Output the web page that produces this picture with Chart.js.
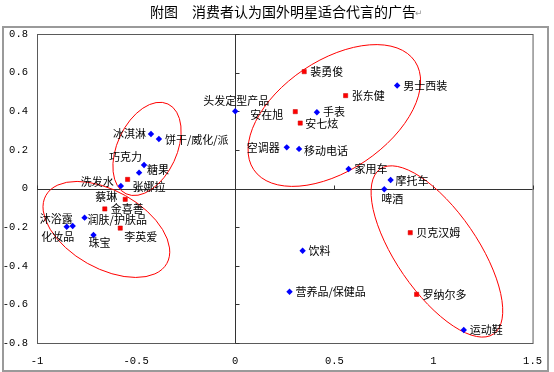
<!DOCTYPE html>
<html>
<head>
<meta charset="utf-8">
<script src="https://cdn.jsdelivr.net/npm/chart.js@4"></script>
<style>
  body { margin: 0; background: #fff; }
  canvas { display: block; }
</style>
</head>
<body>
<canvas id="canvas" width="554" height="372"></canvas>
<script>
const ctx = document.getElementById('canvas');

// products (blue diamonds)
const productNames = ['头发定型产品', '冰淇淋', '饼干/威化/派', '巧克力', '糖果', '洗发水', '润肤/护肤品', '沐浴露', '化妆品', '珠宝',
  '男士西装', '手表', '空调器', '移动电话', '家用车', '摩托车', '啤酒', '饮料', '营养品/保健品', '运动鞋'];
const productX = [0.0, -0.425, -0.385, -0.46, -0.485, -0.577, -0.76, -0.82, -0.85, -0.715,
  0.817, 0.412, 0.26, 0.322, 0.572, 0.784, 0.752, 0.34, 0.274, 1.153];
const productY = [0.40, 0.282, 0.256, 0.122, 0.082, 0.013, -0.151, -0.194, -0.198, -0.241,
  0.533, 0.395, 0.213, 0.205, 0.101, 0.044, -0.004, -0.322, -0.535, -0.733];

// stars (red squares)
const starNames = ['裴勇俊', '张东健', '安在旭', '安七炫', '张娜拉', '蔡琳', '金喜善', '李英爱', '贝克汉姆', '罗纳尔多'];
const starX = [0.348, 0.557, 0.303, 0.328, -0.543, -0.555, -0.658, -0.58, 0.883, 0.915];
const starY = [0.605, 0.481, 0.398, 0.339, 0.047, -0.056, -0.106, -0.205, -0.229, -0.548];

const xTicks = [-1, -0.5, 0, 0.5, 1, 1.5];
const yTicks = [0.8, 0.6, 0.4, 0.2, 0, -0.2, -0.4, -0.6, -0.8];

// cluster ellipses: centre in data units, semi-axes in x units, tilt in degrees
const clusterCx = [-0.445, -0.65, 0.5, 1.0175];
const clusterCy = [0.205, -0.212, 0.378, -0.326];
const clusterA = [0.25, 0.35, 0.49, 0.505];
const clusterB = [0.15, 0.196, 0.278, 0.205];
const clusterTilt = [-65, 29.4, -33.9, 55.5];

// label placement: dx, dy, align
const labelPos = {
  '头发定型产品': [1, -10, 'center'], '冰淇淋': [-5, 0, 'right'], '饼干/威化/派': [6, 1, 'left'],
  '巧克力': [-2, -8, 'right'], '糖果': [8, -3, 'left'], '洗发水': [-7, -4, 'right'],
  '润肤/护肤品': [3, 2, 'left'], '沐浴露': [0, -7, 'right'], '化妆品': [-9, 10, 'center'],
  '珠宝': [6, 8, 'center'], '男士西装': [6, 0, 'left'], '手表': [6, 0, 'left'],
  '空调器': [-7, 0, 'right'], '移动电话': [5, 2, 'left'], '家用车': [6, 0, 'left'],
  '摩托车': [5, 1, 'left'], '啤酒': [8, 10, 'center'], '饮料': [6, 0, 'left'],
  '营养品/保健品': [6, 0, 'left'], '运动鞋': [6, 0, 'left'],
  '裴勇俊': [6, 0, 'left'], '张东健': [6, 0, 'left'], '安在旭': [-12, 3, 'right'],
  '安七炫': [5, 1, 'left'], '张娜拉': [5, 7, 'left'], '蔡琳': [-8, -3, 'right'],
  '金喜善': [6, 0, 'left'], '李英爱': [4, 9, 'left'], '贝克汉姆': [6, 0, 'left'],
  '罗纳尔多': [6, 0, 'left']
};

const toPoints = (xs, ys) => xs.map((x, i) => ({ x: x, y: ys[i] }));

const decor = {
  id: 'decor',
  beforeDraw(chart) {
    const c = chart.ctx;
    c.save();
    c.fillStyle = '#fff';
    c.fillRect(0, 0, chart.width, chart.height);
    // outer frame
    c.strokeStyle = '#9a9a9a';
    c.lineWidth = 2;
    c.strokeRect(3, 27, 545, 344);
    // title
    c.fillStyle = '#000';
    c.font = '14px "Noto Sans CJK SC"';
    c.textBaseline = 'middle';
    c.textAlign = 'left';
    c.fillText('附图　消费者认为国外明星适合代言的广告', 150, 12);
    c.fillStyle = '#999';
    c.font = '9px "DejaVu Sans"';
    c.fillText('↵', 415, 14);
    c.restore();
  },
  beforeDatasetsDraw(chart) {
    const c = chart.ctx;
    const a = chart.chartArea;
    const xs = chart.scales.x, ys = chart.scales.y;
    c.save();
    // plot border
    c.strokeStyle = '#5a5a5a';
    c.lineWidth = 1;
    c.strokeRect(a.left + 0.5, a.top + 0.5, a.right - a.left, a.bottom - a.top);
    // crossing axes
    const x0 = Math.round(xs.getPixelForValue(0)) + 0.5;
    const y0 = Math.round(ys.getPixelForValue(0)) + 0.5;
    c.strokeStyle = '#333';
    c.beginPath();
    c.moveTo(x0, a.top); c.lineTo(x0, a.bottom);
    c.moveTo(a.left, y0); c.lineTo(a.right, y0);
    yTicks.forEach(v => {
      const p = Math.round(ys.getPixelForValue(v)) + 0.5;
      c.moveTo(x0, p); c.lineTo(x0 + 4, p);
    });
    xTicks.forEach(v => {
      const p = Math.round(xs.getPixelForValue(v)) + 0.5;
      c.moveTo(p, y0); c.lineTo(p, y0 - 4);
    });
    c.stroke();
    // ellipses
    const pxPerUnit = xs.getPixelForValue(1) - xs.getPixelForValue(0);
    c.strokeStyle = '#ff0000';
    c.lineWidth = 1;
    clusterCx.forEach((cx, i) => {
      c.beginPath();
      c.ellipse(xs.getPixelForValue(cx), ys.getPixelForValue(clusterCy[i]),
        clusterA[i] * pxPerUnit, clusterB[i] * pxPerUnit,
        clusterTilt[i] * Math.PI / 180, 0, Math.PI * 2);
      c.stroke();
    });
    c.restore();
  },
  afterDatasetsDraw(chart) {
    const c = chart.ctx;
    c.save();
    c.fillStyle = '#000';
    c.font = '11px "Noto Sans CJK SC"';
    c.textBaseline = 'middle';
    chart.data.datasets.forEach((ds, di) => {
      const meta = chart.getDatasetMeta(di);
      ds.names.forEach((name, i) => {
        const el = meta.data[i];
        const pos = labelPos[name] || [6, 0, 'left'];
        c.textAlign = pos[2];
        c.fillText(name, el.x + pos[0], el.y + pos[1]);
      });
    });
    c.restore();
  }
};

new Chart(ctx, {
  type: 'scatter',
  data: {
    datasets: [{
      label: '产品',
      names: productNames,
      data: toPoints(productX, productY),
      pointStyle: 'rectRot',
      pointRadius: 3.2,
      backgroundColor: '#0000ff',
      borderColor: '#0000ff',
      borderWidth: 0
    }, {
      label: '明星',
      names: starNames,
      data: toPoints(starX, starY),
      pointStyle: 'rect',
      pointRadius: 3,
      backgroundColor: '#ff0000',
      borderColor: '#cc0000',
      borderWidth: 0.5
    }]
  },
  options: {
    responsive: false,
    animation: false,
    layout: { padding: { top: 34, left: 0, right: 16, bottom: 0 } },
    plugins: { legend: { display: false }, tooltip: { enabled: false } },
    scales: {
      x: {
        type: 'linear',
        min: -1,
        max: 1.5,
        afterBuildTicks: s => { s.ticks = xTicks.map(v => ({ value: v })); },
        afterFit: s => { s.height = 29; },
        grid: { display: false, drawTicks: false },
        border: { display: false },
        ticks: {
          padding: 12, color: '#000', font: { family: '"Liberation Mono"', size: 10.5 },
          callback: v => String(v)
        }
      },
      y: {
        type: 'linear',
        min: -0.8,
        max: 0.8,
        afterBuildTicks: s => { s.ticks = yTicks.map(v => ({ value: v })); },
        afterFit: s => { s.width = 37; },
        grid: { display: false, drawTicks: false },
        border: { display: false },
        ticks: {
          padding: 9, color: '#000', font: { family: '"Liberation Mono"', size: 10.5 },
          callback: v => String(v)
        }
      }
    }
  },
  plugins: [decor]
});
</script>
</body>
</html>
